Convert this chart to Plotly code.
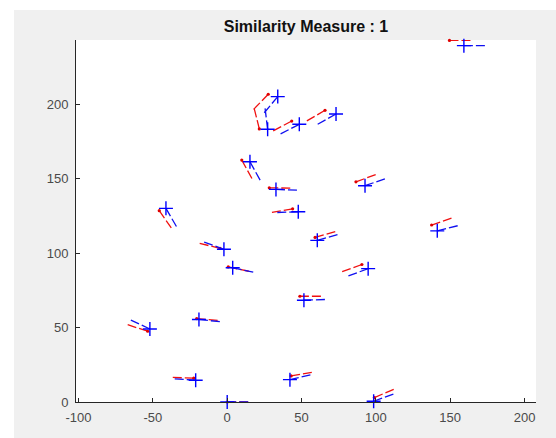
import math
import plotly.graph_objects as go

# ---- data: minutiae positions (x, y) and orientation angles (degrees) ----
red_x = [149.5, 27.6, 21.6, 43.4, 65.8, 9.8, 28.3, 86.6, -45.7, 44.0, 137.5,
         -4.8, 59.1, 0.7, 90.6, 48.9, -20.5, -53.5, -22.5, 43.0, 99.0, 0.0]
red_y = [242.7, 206.6, 183.3, 188.6, 195.8, 162.4, 143.8, 147.8, 128.4, 129.7, 118.8,
         103.1, 110.5, 90.7, 92.3, 71.0, 56.0, 47.5, 16.0, 17.5, 3.0, 0.0]
red_angle = [0, 226, 104, 208, 210, 299, 359, 20, 305, 190, 19,
             166, 16, 348, 200, 0, 355, 162, 178, 10, 23, 0]

blue_x = [159.2, 34.0, 27.2, 48.5, 73.2, 15.3, 32.8, 92.7, -41.2, 47.8, 141.3,
          -2.2, 60.6, 3.7, 94.8, 51.6, -19.0, -52.0, -21.2, 42.2, 98.5, 0.0]
blue_y = [239.2, 205.0, 183.1, 186.4, 193.3, 161.3, 142.7, 145.2, 130.0, 127.7, 114.9,
          102.5, 108.5, 90.1, 89.5, 68.3, 55.4, 49.0, 14.6, 15.0, 0.5, 0.0]
blue_angle = [0, 230, 97, 207, 209, 299, 358, 19, 300, 182, 14,
              160, 16, 348, 200, 2, 354, 155, 176, 13, 20, 0]

x_ticks = [-100, -50, 0, 50, 100, 150, 200]
x_tick_text = ["-100", "-50", "0", "50", "100", "150", "200"]
y_ticks = [0, 50, 100, 150, 200]
y_tick_text = ["0", "50", "100", "150", "200"]
title_text = "Similarity Measure : 1"

SEG_LEN = 15


def segments(xs, ys, angs):
    sx, sy = [], []
    for x, y, a in zip(xs, ys, angs):
        r = math.radians(a)
        sx += [x, x + SEG_LEN * math.cos(r), None]
        sy += [y, y + SEG_LEN * math.sin(r), None]
    return sx, sy


rsx, rsy = segments(red_x, red_y, red_angle)
bsx, bsy = segments(blue_x, blue_y, blue_angle)

fig = go.Figure()
fig.add_trace(go.Scatter(x=rsx, y=rsy, mode="lines", connectgaps=False,
                         line=dict(color="#f01010", width=1.3, dash="9px,3px"),
                         hoverinfo="skip", showlegend=False))
fig.add_trace(go.Scatter(x=red_x, y=red_y, mode="markers", cliponaxis=False,
                         marker=dict(symbol="circle", size=3.2, color="#e00000"),
                         showlegend=False))
fig.add_trace(go.Scatter(x=bsx, y=bsy, mode="lines", connectgaps=False,
                         line=dict(color="#1010f0", width=1.3, dash="9px,3px"),
                         hoverinfo="skip", showlegend=False))
fig.add_trace(go.Scatter(x=blue_x, y=blue_y, mode="markers", cliponaxis=False,
                         marker=dict(symbol="cross-thin", size=10,
                                     line=dict(color="#0000ff", width=1.4)),
                         showlegend=False))

W, H = 556, 438
L_M, R_M, T_M, B_M = 76, 20, 40, 36
pw, ph = W - L_M - R_M, H - T_M - B_M


def px_x(p):
    return (p - L_M) / pw


def px_y(p):
    return (H - B_M - p) / ph


shapes = [
    dict(type="rect", xref="paper", yref="paper", layer="above",
         x0=px_x(0), x1=px_x(14), y0=px_y(H), y1=px_y(0),
         fillcolor="white", line=dict(width=0)),
    dict(type="rect", xref="paper", yref="paper", layer="above",
         x0=px_x(0), x1=px_x(W), y0=px_y(10), y1=px_y(0),
         fillcolor="white", line=dict(width=0)),
]

axis_common = dict(showgrid=False, zeroline=False, showline=True,
                   linecolor="#262626", linewidth=1, ticks="inside",
                   ticklen=4, tickwidth=1, tickcolor="#262626",
                   tickfont=dict(family="Liberation Sans, Arial", size=13,
                                 color="#4a4a4a"),
                   mirror=False, fixedrange=True)

fig.update_layout(
    width=W, height=H,
    margin=dict(l=L_M, r=R_M, t=T_M, b=B_M, pad=0),
    paper_bgcolor="#f0f0f0", plot_bgcolor="white",
    shapes=shapes,
    title=dict(text=title_text, x=0.5, xanchor="center", xref="paper",
               y=1 - 26.5 / H, yref="container", yanchor="middle",
               font=dict(family="Liberation Sans, Arial", size=16,
                         color="#111111", weight="bold")),
    xaxis=dict(range=[-101.7, 207.7], tickvals=x_ticks, ticktext=x_tick_text,
               ticklabelstandoff=3, **axis_common),
    yaxis=dict(range=[0, 243], tickvals=y_ticks, ticktext=y_tick_text,
               ticklabelstandoff=4, **axis_common),
)

fig.write_html(
    "out.html",
    config={"displayModeBar": False, "staticPlot": True},
    post_script="document.body.style.margin='0';document.body.style.padding='0';"
                "document.body.style.overflow='hidden';",
)
